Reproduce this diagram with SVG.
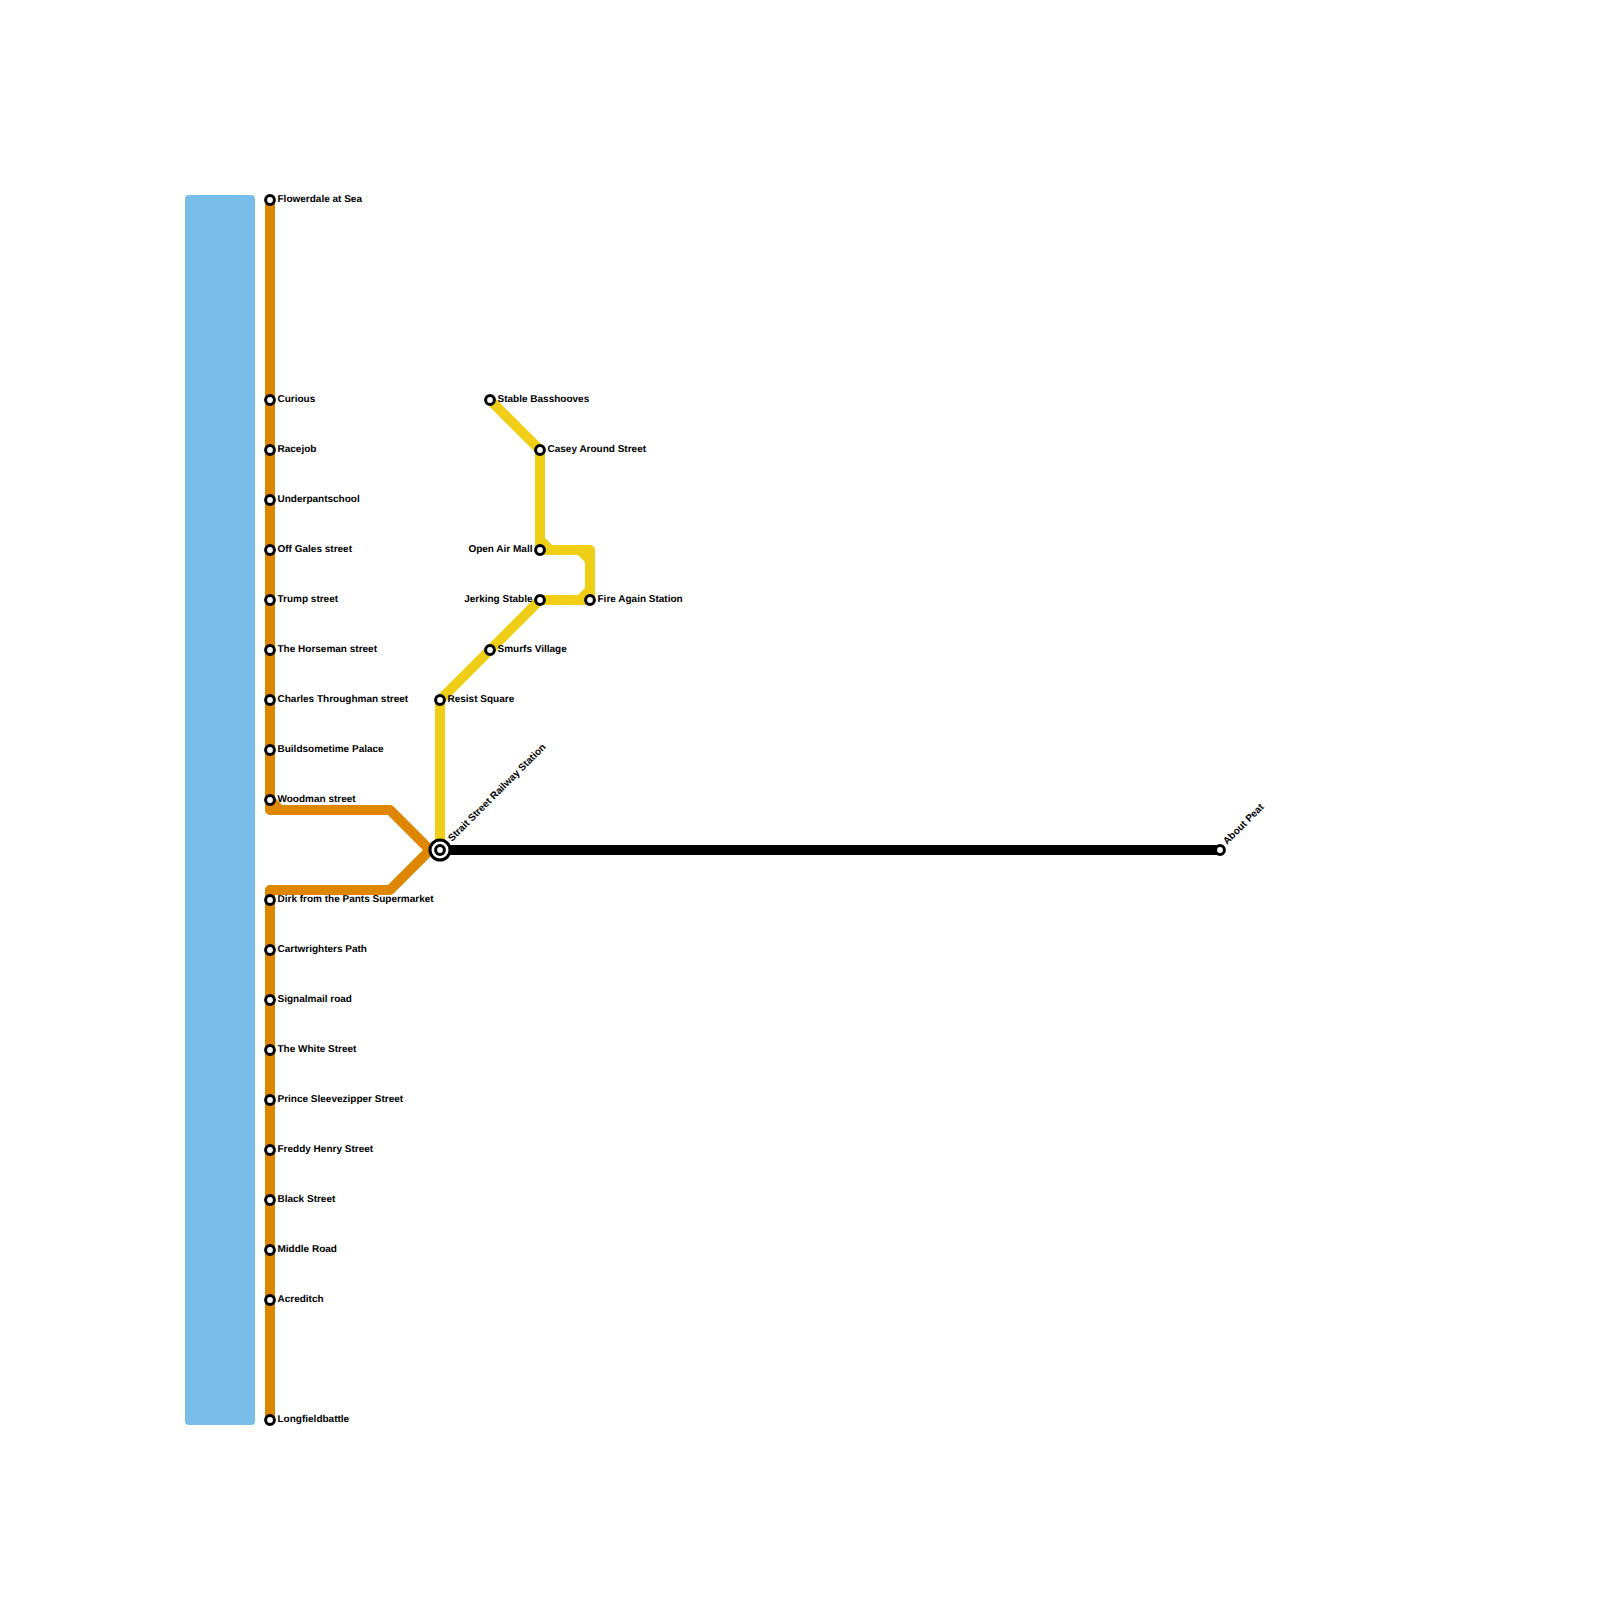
<svg xmlns="http://www.w3.org/2000/svg" width="1600" height="1600" viewBox="0 0 1600 1600">
<style>
.line{fill:none;stroke-width:10;stroke-linejoin:round;stroke-linecap:butt}
.o{stroke:#df8600}.y{stroke:#f0ce15}.k{stroke:#000}
.st{fill:#fff;stroke:#000;stroke-width:3}
text{font-family:"Liberation Sans",Arial,sans-serif;font-size:10px;font-weight:700;fill:#000;text-rendering:geometricPrecision}
.e{text-anchor:end}
</style>
<rect id="water" x="185" y="195" width="70" height="1230" rx="4" fill="#79bde9"/>
<g id="connectors">
<path class="line o" d="M270 200V810H390L430 850L390 890H270V1420"/>
<path class="line o" d="M270 800L280 810"/>
<path class="line k" d="M440 850H1220"/>
<path class="line y" d="M440 850V700L540 600H590V550H540V450L490 400"/>
<path class="line y" d="M540 540L550 550M580 550L590 560M580 600L590 590"/>
</g>
<g id="flowerdale"><circle class="st" cx="270" cy="200" r="4.4"/><text x="277.5" y="202">Flowerdale at Sea</text></g>
<g id="curious"><circle class="st" cx="270" cy="400" r="4.4"/><text x="277.5" y="402">Curious</text></g>
<g id="racejob"><circle class="st" cx="270" cy="450" r="4.4"/><text x="277.5" y="452">Racejob</text></g>
<g id="underpantschool"><circle class="st" cx="270" cy="500" r="4.4"/><text x="277.5" y="502">Underpantschool</text></g>
<g id="offgales"><circle class="st" cx="270" cy="550" r="4.4"/><text x="277.5" y="552">Off Gales street</text></g>
<g id="trump"><circle class="st" cx="270" cy="600" r="4.4"/><text x="277.5" y="602">Trump street</text></g>
<g id="horseman"><circle class="st" cx="270" cy="650" r="4.4"/><text x="277.5" y="652">The Horseman street</text></g>
<g id="charles"><circle class="st" cx="270" cy="700" r="4.4"/><text x="277.5" y="702">Charles Throughman street</text></g>
<g id="buildsometime"><circle class="st" cx="270" cy="750" r="4.4"/><text x="277.5" y="752">Buildsometime Palace</text></g>
<g id="woodman"><circle class="st" cx="270" cy="800" r="4.4"/><text x="277.5" y="802">Woodman street</text></g>
<g id="dirk"><circle class="st" cx="270" cy="900" r="4.4"/><text x="277.5" y="902">Dirk from the Pants Supermarket</text></g>
<g id="cartwrighters"><circle class="st" cx="270" cy="950" r="4.4"/><text x="277.5" y="952">Cartwrighters Path</text></g>
<g id="signalmail"><circle class="st" cx="270" cy="1000" r="4.4"/><text x="277.5" y="1002">Signalmail road</text></g>
<g id="white"><circle class="st" cx="270" cy="1050" r="4.4"/><text x="277.5" y="1052">The White Street</text></g>
<g id="prince"><circle class="st" cx="270" cy="1100" r="4.4"/><text x="277.5" y="1102">Prince Sleevezipper Street</text></g>
<g id="freddy"><circle class="st" cx="270" cy="1150" r="4.4"/><text x="277.5" y="1152">Freddy Henry Street</text></g>
<g id="black"><circle class="st" cx="270" cy="1200" r="4.4"/><text x="277.5" y="1202">Black Street</text></g>
<g id="middle"><circle class="st" cx="270" cy="1250" r="4.4"/><text x="277.5" y="1252">Middle Road</text></g>
<g id="acreditch"><circle class="st" cx="270" cy="1300" r="4.4"/><text x="277.5" y="1302">Acreditch</text></g>
<g id="longfieldbattle"><circle class="st" cx="270" cy="1420" r="4.4"/><text x="277.5" y="1422">Longfieldbattle</text></g>
<g id="strait"><circle class="st" cx="440" cy="850" r="10"/><circle class="st" cx="440" cy="850" r="4.4"/><text transform="translate(452 842) rotate(-45)">Strait Street Railway Station</text></g>
<g id="about"><circle class="st" cx="1220" cy="850" r="4.4"/><text transform="translate(1227 845) rotate(-45)">About Peat</text></g>
<g id="resist"><circle class="st" cx="440" cy="700" r="4.4"/><text x="447.5" y="702">Resist Square</text></g>
<g id="smurfs"><circle class="st" cx="490" cy="650" r="4.4"/><text x="497.5" y="652">Smurfs Village</text></g>
<g id="jerking"><circle class="st" cx="540" cy="600" r="4.4"/><text class="e" x="532.5" y="602">Jerking Stable</text></g>
<g id="fireagain"><circle class="st" cx="590" cy="600" r="4.4"/><text x="597.5" y="602">Fire Again Station</text></g>
<g id="openair"><circle class="st" cx="540" cy="550" r="4.4"/><text class="e" x="532.5" y="552">Open Air Mall</text></g>
<g id="casey"><circle class="st" cx="540" cy="450" r="4.4"/><text x="547.5" y="452">Casey Around Street</text></g>
<g id="stable"><circle class="st" cx="490" cy="400" r="4.4"/><text x="497.5" y="402">Stable Basshooves</text></g>
</svg>
